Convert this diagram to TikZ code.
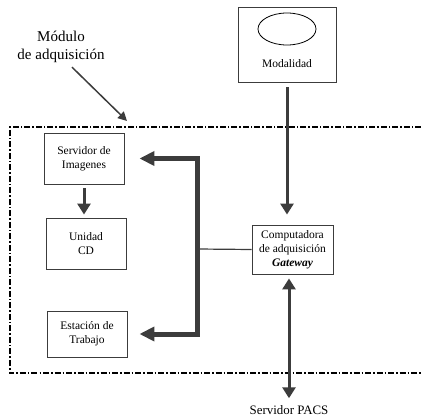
\documentclass[tikz,border=0pt]{standalone}
\usepackage{fontspec}
\setmainfont{Liberation Serif}
\usetikzlibrary{arrows.meta}
\definecolor{linegray}{HTML}{3C3C3C}

\begin{document}
\begin{tikzpicture}[x=1pt,y=-1pt,
    caja/.style={draw=linegray, line width=0.9pt, align=center, inner sep=0pt,
      font=\fontsize{11.5}{13.8}\selectfont},
    flecha/.style={draw=linegray, line width=3pt, -{Triangle[length=11pt,width=13pt]}},
    dflecha/.style={draw=linegray, line width=3pt,
      {Triangle[length=11pt,width=13pt]}-{Triangle[length=11pt,width=13pt]}},
    bus/.style={draw=linegray, line width=5pt, line join=miter,
      {Triangle[length=15pt,width=14pt]}-{Triangle[length=15pt,width=14pt]}},
    ptr/.style={draw=linegray, line width=1.5pt, -{Triangle[length=9pt,width=9pt]}},
    modulo/.style={dash pattern=on 6pt off 2pt on 1.5pt off 2pt, line width=1.5pt}]
    \useasboundingbox (0,0) rectangle (421,417);

    % modulo de adquisicion
    \draw[modulo] (421,127) -- (10,127) -- (10,373) -- (421,373);
    \node[align=center, inner sep=0pt, font=\fontsize{15}{18.3}\selectfont] (modlbl) at (61,47) {Módulo\\de adquisición};
    \coordinate (modtip) at (127,121);
    \draw[ptr] ([xshift=11pt,yshift=-4pt]modlbl.south) -- (modtip);

    % modalidad
    \node[caja, minimum width=98pt, minimum height=75pt] (mod) at (287,44.5) {};
    \draw[line width=0.8pt] (287,29) ellipse (29 and 16);
    \node[inner sep=0pt, font=\fontsize{11.5}{13.8}\selectfont] (modtxt) at (287,64) {Modalidad};

    % cajas
    \node[caja, minimum width=80pt, minimum height=51pt] (srv) at (84,158.5) {Servidor de\\Imagenes};
    \node[caja, minimum width=80pt, minimum height=51pt] (ucd) at (86,243.5) {Unidad\\CD};
    \node[caja, minimum width=80pt, minimum height=46pt] (est) at (87,334) {Estación de\\Trabajo};
    \node[caja, minimum width=81pt, minimum height=49pt] (comp) at (292.5,249.5) {Computadora\\de adquisición\\\textbf{\textit{Gateway}}};
    \node[inner sep=0pt, font=\fontsize{12.9}{15}\selectfont] (pacs) at (289,410) {Servidor PACS};

    % conexiones
    \coordinate (busc) at (197,249);
    \draw[draw=linegray, line width=1.2pt] (comp.west) -- (busc);
    \draw[bus] ([xshift=15pt]srv.east) -| (busc) |- ([xshift=12pt]est.east);
    \draw[flecha] ([yshift=-5pt]mod.south) -- ([yshift=10pt]mod.south |- comp.north);
    \draw[flecha] ([yshift=-4pt]srv.south) -- ([yshift=3pt]srv.south |- ucd.north);
    \draw[dflecha] ([yshift=-4pt]comp.south -| pacs.north) -- ([yshift=7pt]pacs.north);
\end{tikzpicture}
\end{document}
